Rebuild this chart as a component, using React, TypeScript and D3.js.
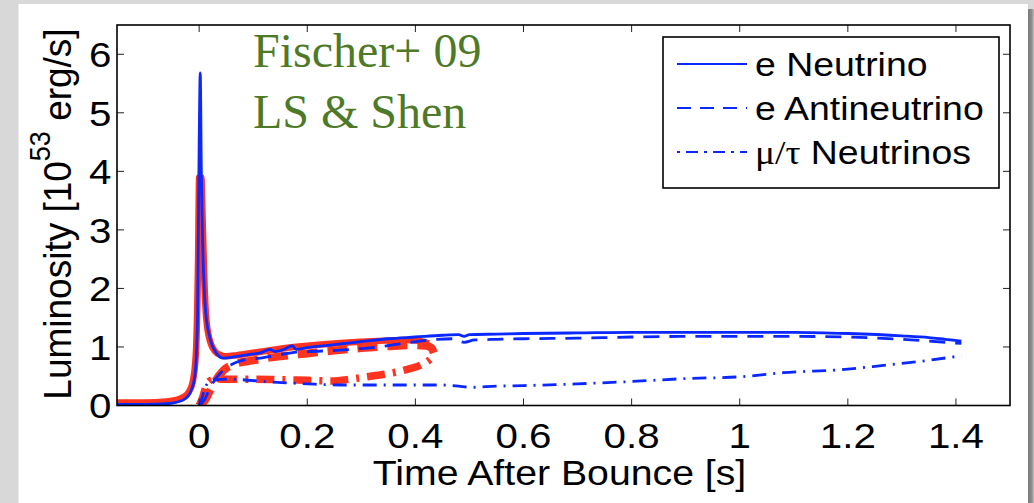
import React from "react";
import * as d3 from "d3";

// ---------- data ----------
const X_TICKS = [0, 0.2, 0.4, 0.6, 0.8, 1, 1.2, 1.4];
const Y_TICKS = [0, 1, 2, 3, 4, 5, 6];

// red model (ends ~0.43 s)
const RED_NUE_T = [-0.152, -0.1, -0.06, -0.04, -0.03, -0.02, -0.012, -0.006, -0.002, 0.0, 0.004, 0.006, 0.009, 0.013, 0.02, 0.03, 0.04, 0.05, 0.07, 0.1, 0.15, 0.2, 0.25, 0.3, 0.35, 0.38, 0.41, 0.425];
const RED_NUE_L = [0.05, 0.05, 0.07, 0.1, 0.14, 0.22, 0.4, 0.9, 2.5, 3.9, 3.9, 3.3, 2.3, 1.5, 1.1, 0.92, 0.86, 0.84, 0.86, 0.9, 0.97, 1.02, 1.06, 1.09, 1.11, 1.12, 1.1, 1.06];

const RED_NUEBAR_T = [0.0, 0.01, 0.02, 0.03, 0.045, 0.07, 0.1, 0.125, 0.15, 0.2, 0.25, 0.3, 0.35, 0.4, 0.42, 0.43, 0.434];
const RED_NUEBAR_L = [0.0, 0.08, 0.25, 0.42, 0.6, 0.72, 0.77, 0.81, 0.84, 0.89, 0.94, 0.98, 1.01, 1.03, 1.02, 0.98, 0.9];

const RED_NUX_T = [0.0, 0.005, 0.01, 0.015, 0.025, 0.05, 0.09, 0.15, 0.2, 0.245, 0.28, 0.31, 0.34, 0.37, 0.39, 0.41, 0.425, 0.433];
const RED_NUX_L = [0.0, 0.1, 0.25, 0.38, 0.44, 0.45, 0.45, 0.44, 0.43, 0.42, 0.45, 0.49, 0.53, 0.58, 0.63, 0.69, 0.77, 0.84];

// blue model (ends ~1.41 s)
const BLUE_NUE_T = [-0.152, -0.1, -0.06, -0.04, -0.025, -0.015, -0.008, -0.003, 0.0, 0.002, 0.004, 0.007, 0.012, 0.02, 0.03, 0.045, 0.07, 0.1, 0.113, 0.131, 0.14, 0.155, 0.172, 0.18, 0.2, 0.25, 0.3, 0.35, 0.4, 0.45, 0.48, 0.49, 0.5, 0.55, 0.6, 0.7, 0.8, 0.9, 1.0, 1.1, 1.2, 1.3, 1.35, 1.38, 1.41];
const BLUE_NUE_L = [0.02, 0.02, 0.03, 0.06, 0.12, 0.25, 0.5, 1.5, 4.5, 5.68, 4.0, 2.6, 1.6, 1.15, 0.92, 0.81, 0.84, 0.88, 0.9, 0.96, 0.92, 0.95, 1.02, 0.96, 0.99, 1.04, 1.09, 1.14, 1.17, 1.2, 1.21, 1.18, 1.21, 1.22, 1.23, 1.24, 1.25, 1.25, 1.25, 1.25, 1.23, 1.19, 1.16, 1.13, 1.1];

const BLUE_NUEBAR_T = [0.0, 0.01, 0.02, 0.03, 0.04, 0.06, 0.08, 0.113, 0.15, 0.18, 0.2, 0.27, 0.33, 0.385, 0.44, 0.47, 0.49, 0.51, 0.55, 0.6, 0.7, 0.8, 0.9, 1.0, 1.1, 1.2, 1.3, 1.35, 1.41];
const BLUE_NUEBAR_L = [0.0, 0.1, 0.3, 0.45, 0.56, 0.7, 0.77, 0.81, 0.87, 0.91, 0.92, 0.95, 1.0, 1.07, 1.13, 1.14, 1.08, 1.12, 1.13, 1.14, 1.15, 1.17, 1.18, 1.18, 1.18, 1.17, 1.13, 1.1, 1.06];

const BLUE_NUX_T = [0.0, 0.005, 0.01, 0.02, 0.03, 0.05, 0.08, 0.12, 0.2, 0.26, 0.3, 0.4, 0.45, 0.48, 0.5, 0.55, 0.6, 0.7, 0.8, 0.9, 1.0, 1.08, 1.2, 1.27, 1.33, 1.41];
const BLUE_NUX_L = [0.0, 0.12, 0.28, 0.41, 0.44, 0.45, 0.44, 0.41, 0.37, 0.35, 0.35, 0.35, 0.35, 0.33, 0.31, 0.33, 0.34, 0.37, 0.41, 0.46, 0.49, 0.56, 0.62, 0.69, 0.75, 0.85];

const LEGEND_LABELS = ["e Neutrino", "e Antineutrino", "Neutrinos"];

// ---------- layout ----------
const W = 1034;
const H = 503;
const PLOT = { left: 117, right: 1010, top: 25, bottom: 405.5 };
const RED = "#ff3420";
const BLUE = "#0a28ff";
const GREEN = "#4e7a28";
const SANS = "'Liberation Sans', Arial, Helvetica, sans-serif";
const SERIF = "'Liberation Serif', 'Times New Roman', serif";

const x = d3.scaleLinear().domain([-0.152, 1.5]).range([PLOT.left, PLOT.right]);
const y = d3.scaleLinear().domain([0, 6.5]).range([PLOT.bottom, PLOT.top]);

const zip = (t: number[], l: number[]) => t.map((v, i) => [v, l[i]] as [number, number]);
const line = d3
  .line<[number, number]>()
  .x((d) => x(d[0]))
  .y((d) => y(d[1]))
  .curve(d3.curveMonotoneX);

const SERIES = [
  { data: zip(RED_NUE_T, RED_NUE_L), color: RED, width: 6.5, dash: undefined as string | undefined },
  { data: zip(RED_NUEBAR_T, RED_NUEBAR_L), color: RED, width: 8, dash: "20,10" },
  { data: zip(RED_NUX_T, RED_NUX_L), color: RED, width: 7.5, dash: "18,8,3,8" },
  { data: zip(BLUE_NUE_T, BLUE_NUE_L), color: BLUE, width: 2.8, dash: undefined },
  { data: zip(BLUE_NUEBAR_T, BLUE_NUEBAR_L), color: BLUE, width: 2.8, dash: "16,10" },
  { data: zip(BLUE_NUX_T, BLUE_NUX_L), color: BLUE, width: 2.8, dash: "14,7,2,7" },
];

const LEGEND_STYLES = [
  { dash: undefined as string | undefined },
  { dash: "14,9" },
  { dash: "3,6,12,6" },
];

export default function App() {
  const tickLen = 7;
  return (
    <svg
      width={W}
      height={H}
      style={{ position: "fixed", left: 0, top: 0, display: "block" }}
      xmlns="http://www.w3.org/2000/svg"
    >
      <defs>
        <clipPath id="plotClip">
          <rect x={PLOT.left} y={PLOT.top} width={PLOT.right - PLOT.left} height={PLOT.bottom - PLOT.top} />
        </clipPath>
        <linearGradient id="shadow" x1="0" x2="1" y1="0" y2="0">
          <stop offset="0" stopColor="#7a7a7a" />
          <stop offset="0.6" stopColor="#8e8e8e" />
          <stop offset="1" stopColor="#bdbdbd" />
        </linearGradient>
      </defs>
      {/* slide backdrop */}
      <rect x={0} y={0} width={W} height={H} fill="#d8d8d8" />
      <rect x={1028} y={9} width={6} height={H - 9} fill="url(#shadow)" />
      <rect x={18.5} y={4} width={1028 - 18.5} height={H - 4} fill="#ffffff" />

      {/* data */}
      <g clipPath="url(#plotClip)" fill="none" strokeLinejoin="round">
        {SERIES.map((s, i) => (
          <path
            key={i}
            d={line(s.data) || ""}
            stroke={s.color}
            strokeWidth={s.width}
            strokeDasharray={s.dash}
            strokeLinecap="butt"
          />
        ))}
      </g>

      {/* ticks */}
      <g stroke="#222" strokeWidth={1}>
        {X_TICKS.map((t) => (
          <g key={"xt" + t}>
            <line x1={x(t)} x2={x(t)} y1={PLOT.bottom} y2={PLOT.bottom - tickLen} />
            <line x1={x(t)} x2={x(t)} y1={PLOT.top} y2={PLOT.top + tickLen} />
          </g>
        ))}
        {Y_TICKS.map((v) => (
          <g key={"yt" + v}>
            <line x1={PLOT.left} x2={PLOT.left + tickLen} y1={y(v)} y2={y(v)} />
            <line x1={PLOT.right} x2={PLOT.right - tickLen} y1={y(v)} y2={y(v)} />
          </g>
        ))}
      </g>

      {/* frame */}
      <rect
        x={PLOT.left}
        y={PLOT.top}
        width={PLOT.right - PLOT.left}
        height={PLOT.bottom - PLOT.top}
        fill="none"
        stroke="#000"
        strokeWidth={1.6}
      />

      {/* tick labels */}
      <g fontFamily={SANS} fontSize={36} fill="#000">
        {X_TICKS.map((t) => (
          <text key={"xl" + t} transform={`translate(${x(t)},448) scale(1.12,1)`} textAnchor="middle">
            {String(t)}
          </text>
        ))}
        {Y_TICKS.map((v) => (
          <text key={"yl" + v} transform={`translate(111.5,${y(v) + 12.9}) scale(1.12,1)`} textAnchor="end">
            {String(v)}
          </text>
        ))}
      </g>

      {/* axis titles */}
      <text
        transform={`translate(${(PLOT.left + PLOT.right) / 2 - 4},485) scale(1.09,1)`}
        textAnchor="middle"
        fontFamily={SANS}
        fontSize={36}
        fill="#000"
      >
        Time After Bounce [s]
      </text>
      <text
        transform={`translate(71,214) scale(1.06,1) rotate(-90)`}
        textAnchor="middle"
        fontFamily={SANS}
        fontSize={37}
        fill="#000"
      >
        Luminosity [10
        <tspan fontSize={27} dy={-20}>53</tspan>
        <tspan dy={20}> erg/s]</tspan>
      </text>

      {/* annotation */}
      <g fontFamily={SERIF} fontSize={48} fill={GREEN}>
        <text x={253} y={67}>Fischer+ 09</text>
        <text x={253} y={128}>LS &amp; Shen</text>
      </g>

      {/* legend */}
      <g>
        <rect x={663} y={37} width={336} height={151} fill="#fff" stroke="#000" strokeWidth={1.6} />
        {LEGEND_LABELS.map((lab, i) => {
          const ly = 64 + i * 44;
          return (
            <g key={lab}>
              <line
                x1={677}
                x2={747}
                y1={ly}
                y2={ly}
                stroke={BLUE}
                strokeWidth={2.2}
                strokeDasharray={LEGEND_STYLES[i].dash}
              />
              <text
                transform={`translate(755,${ly + 12}) scale(1.1,1)`}
                fontFamily={SANS}
                fontSize={34}
                fill="#000"
              >
                {i === 2 ? (
                  <>
                    <tspan fontFamily={SERIF}>μ/τ</tspan>
                    <tspan> {lab}</tspan>
                  </>
                ) : (
                  lab
                )}
              </text>
            </g>
          );
        })}
      </g>
    </svg>
  );
}
